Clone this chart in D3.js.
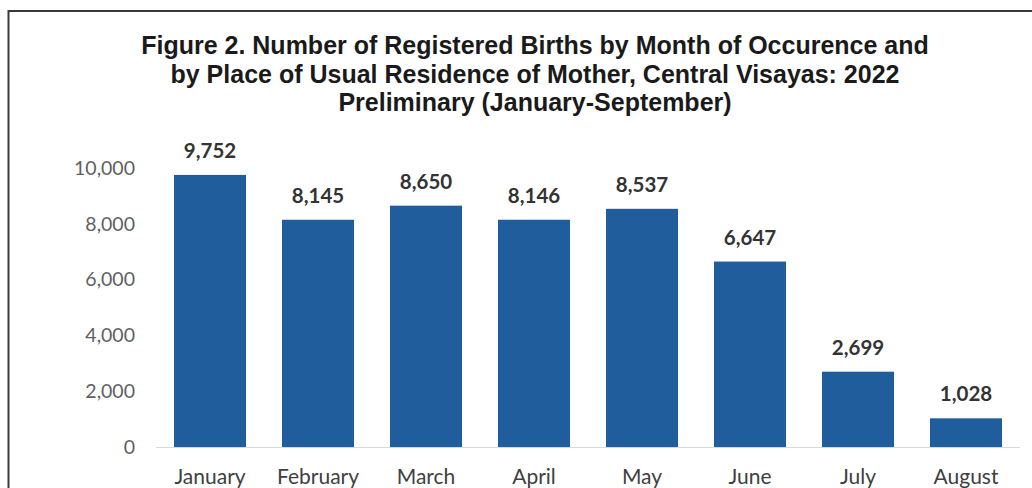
<!DOCTYPE html>
<html>
<head>
<meta charset="utf-8">
<script src="https://cdn.jsdelivr.net/npm/d3@7"></script>
<style>
  html, body { margin: 0; padding: 0; background: #fff; overflow: hidden; }
</style>
</head>
<body>
<div id="chart"></div>
<script>
// data
const months = ["January", "February", "March", "April", "May", "June", "July", "August"];
const births = [9752, 8145, 8650, 8146, 8537, 6647, 2699, 1028];
const yTicks = [0, 2000, 4000, 6000, 8000, 10000];
const titleLines = [
  "Figure 2. Number of Registered Births by Month of Occurence and",
  "by Place of Usual Residence of Mother, Central Visayas: 2022",
  "Preliminary (January-September)"
];

const W = 1032, H = 488;
const barColor = "#1f5d9c";

const svg = d3.select("#chart")
  .append("svg")
  .attr("width", W)
  .attr("height", H);

// frame (cropped at right and bottom in the reference)
svg.append("rect")
  .attr("x", 8.5)
  .attr("y", 11)
  .attr("width", 1100)
  .attr("height", 600)
  .attr("fill", "none")
  .attr("stroke", "#3a3a3a")
  .attr("stroke-width", 2);

// title
svg.append("g")
  .selectAll("text")
  .data(titleLines)
  .enter()
  .append("text")
  .attr("x", 535)
  .attr("y", (d, i) => 54 + i * 28.5)
  .attr("text-anchor", "middle")
  .style("font-family", "'Liberation Sans', Arial, sans-serif")
  .style("font-weight", "bold")
  .style("font-size", "25px")
  .style("fill", "#1a1a1a")
  .text(d => d);

// scales
const x = d3.scaleBand()
  .domain(months)
  .range([156, 1020])
  .paddingInner(1 / 3)
  .paddingOuter(1 / 6);

const y = d3.scaleLinear()
  .domain([0, 10000])
  .range([447, 168]);

// y axis labels
const yAxis = svg.append("g")
  .attr("transform", "translate(140, 0)")
  .call(d3.axisLeft(y).tickValues(yTicks).tickFormat(d3.format(",")).tickSize(0).tickPadding(5));
yAxis.select(".domain").remove();
yAxis.selectAll("text")
  .style("font-family", "Lato, 'Open Sans', sans-serif")
  .style("font-size", "19.5px")
  .style("fill", "#5f5f5f");

// baseline
svg.append("line")
  .attr("x1", 156)
  .attr("x2", 1020)
  .attr("y1", y(0) + 0.5)
  .attr("y2", y(0) + 0.5)
  .attr("stroke", "#d9d9d9")
  .attr("stroke-width", 1);

// bars
svg.append("g")
  .selectAll("rect")
  .data(births)
  .enter()
  .append("rect")
  .attr("x", (d, i) => x(months[i]))
  .attr("y", d => y(d))
  .attr("width", x.bandwidth())
  .attr("height", d => y(0) - y(d))
  .style("fill", barColor);

// value labels
svg.append("g")
  .selectAll("text")
  .data(births)
  .enter()
  .append("text")
  .attr("x", (d, i) => x(months[i]) + x.bandwidth() / 2)
  .attr("y", d => y(d) - 17)
  .attr("text-anchor", "middle")
  .style("font-family", "Lato, 'Open Sans', sans-serif")
  .style("font-weight", "bold")
  .style("font-size", "20.5px")
  .style("fill", "#333333")
  .text(d => d3.format(",")(d));

// month labels
const xAxis = svg.append("g")
  .attr("transform", `translate(0, ${y(0)})`)
  .call(d3.axisBottom(x).tickSize(0).tickPadding(22));
xAxis.select(".domain").remove();
xAxis.selectAll("text")
  .style("font-family", "Lato, 'Open Sans', sans-serif")
  .style("font-size", "21px")
  .style("fill", "#404040");
</script>
</body>
</html>
